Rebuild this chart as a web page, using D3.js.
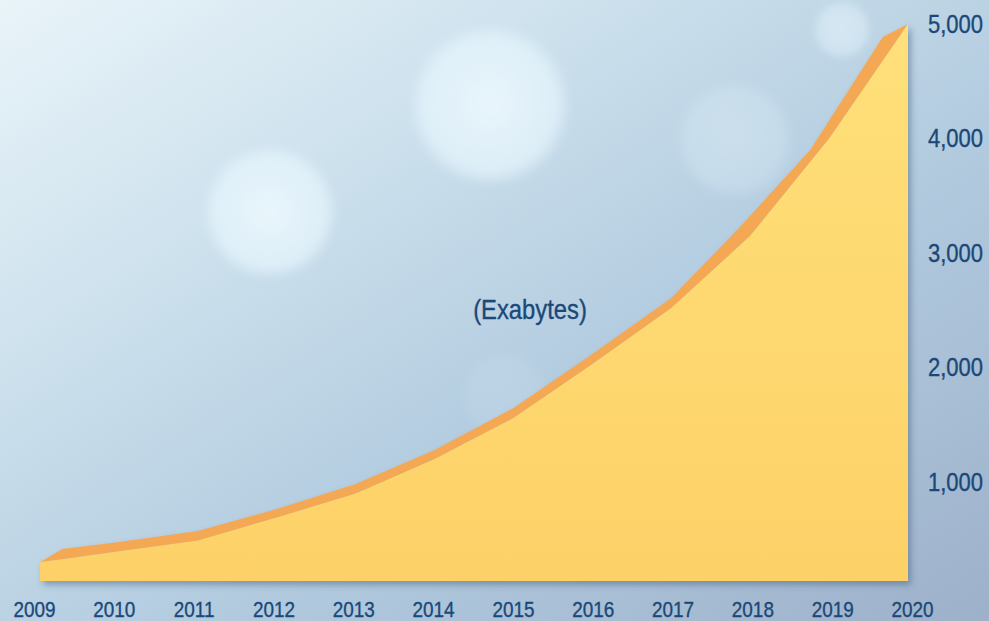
<!DOCTYPE html>
<head>
  <meta charset="utf-8">
  <script src="https://d3js.org/d3.v7.min.js"></script>
  <style>
    body { margin:0; position:fixed; top:0; right:0; bottom:0; left:0; overflow:hidden; }
    .axis text, .unit { font-family: "Liberation Sans", Arial, sans-serif; fill:#1b4878; stroke:#1b4878; stroke-width:0.35px; }
    .axis path, .axis line { display:none; }
  </style>
</head>
<body>
  <script>
    // values
    var years = [2009, 2010, 2011, 2012, 2013, 2014, 2015, 2016, 2017, 2018, 2019, 2020];
    var exabytes = [300, 395, 490, 690, 900, 1200, 1560, 2030, 2520, 3150, 4000, 5000];
    // back edge of the ribbon (the orange top face)
    var backYears = [2009.28, 2010, 2011, 2012, 2013, 2014, 2015, 2016, 2017, 2017.87, 2018.76, 2019.68];
    var backValues = [415, 476, 572, 764, 983, 1280, 1646, 2118, 2607, 3227, 3900, 4886];
    var floorValue = 135;
    var yTicks = [1000, 2000, 3000, 4000, 5000];
    var unitLabel = "(Exabytes)";

    var width = 989, height = 621;

    var svg = d3.select("body").append("svg")
      .attr("width", width)
      .attr("height", height);

    var defs = svg.append("defs");

    var bg = defs.append("linearGradient").attr("id", "bg")
      .attr("x1", 0).attr("y1", 0).attr("x2", 1).attr("y2", 1);
    bg.append("stop").attr("offset", "0%").attr("stop-color", "#e9f4f9");
    bg.append("stop").attr("offset", "30%").attr("stop-color", "#cde1ed");
    bg.append("stop").attr("offset", "60%").attr("stop-color", "#b2cbdf");
    bg.append("stop").attr("offset", "100%").attr("stop-color", "#9db1ca");

    var bokeh = defs.append("radialGradient").attr("id", "bokeh");
    bokeh.append("stop").attr("offset", "0%").attr("stop-color", "#f0fbff").attr("stop-opacity", 0.8);
    bokeh.append("stop").attr("offset", "80%").attr("stop-color", "#e8f7ff").attr("stop-opacity", 0.65);
    bokeh.append("stop").attr("offset", "100%").attr("stop-color", "#e8f7ff").attr("stop-opacity", 0);

    var front = defs.append("linearGradient").attr("id", "front")
      .attr("x1", 0).attr("y1", 0).attr("x2", 0).attr("y2", 1);
    front.append("stop").attr("offset", "0%").attr("stop-color", "#ffe07a");
    front.append("stop").attr("offset", "100%").attr("stop-color", "#fdd168");

    defs.append("filter").attr("id", "soft")
      .append("feGaussianBlur").attr("stdDeviation", 3);

    var shadow = defs.append("filter").attr("id", "shadow")
      .attr("x", "-5%").attr("y", "-5%").attr("width", "115%").attr("height", "115%");
    shadow.append("feDropShadow").attr("dx", 3).attr("dy", 4).attr("stdDeviation", 3)
      .attr("flood-color", "#3d5878").attr("flood-opacity", 0.45);

    svg.append("rect").attr("width", width).attr("height", height).attr("fill", "url(#bg)");

    // soft light spots in the background
    var spots = [[490, 105, 82, 1], [270, 212, 68, 1], [842, 30, 30, 0.6], [735, 140, 60, 0.35], [505, 396, 45, 0.15]];
    svg.selectAll(".spot").data(spots).enter().append("circle")
      .attr("class", "spot")
      .attr("cx", function(d) { return d[0]; })
      .attr("cy", function(d) { return d[1]; })
      .attr("r", function(d) { return d[2]; })
      .attr("fill", "url(#bokeh)")
      .attr("opacity", function(d) { return d[3]; })
      .attr("filter", "url(#soft)");

    var x = d3.scaleLinear().domain([2009, 2020]).range([40, 908]);
    var xLab = d3.scaleLinear().domain([2009, 2020]).range([34, 912]);
    var y = d3.scaleLinear().domain([0, 5000]).range([596.5, 24]);

    var frontPts = years.map(function(yr, i) { return [x(yr), y(exabytes[i])]; });
    var backPts = backYears.map(function(yr, i) { return [x(yr), y(backValues[i])]; });

    var chart = svg.append("g").attr("filter", "url(#shadow)");

    // top face: front edge out, back edge home
    chart.append("path")
      .attr("d", d3.line()(frontPts.concat(backPts.slice().reverse())) + "Z")
      .attr("fill", "#f5a853");

    var area = d3.area()
      .x(function(d) { return x(d); })
      .y0(y(floorValue))
      .y1(function(d, i) { return y(exabytes[i]); });

    chart.append("path")
      .datum(years)
      .attr("d", area)
      .attr("fill", "url(#front)");

    // condensed look: squeeze the glyphs horizontally around their anchor
    var xAxisG = svg.append("g")
      .attr("class", "axis")
      .attr("transform", "translate(0,601)")
      .call(d3.axisBottom(xLab).tickValues(years).tickFormat(d3.format("d")).tickSize(0).tickPadding(0));
    xAxisG.selectAll("text").style("font-size", "22px").attr("transform", "scale(0.86,1)");

    var yAxisG = svg.append("g")
      .attr("class", "axis")
      .attr("transform", "translate(928,0)")
      .call(d3.axisRight(y).tickValues(yTicks).tickFormat(d3.format(",")).tickSize(0).tickPadding(0));
    yAxisG.selectAll("text").style("font-size", "25px").attr("transform", "scale(0.88,1)");

    svg.append("g")
      .attr("transform", "translate(530,319) scale(0.85,1)")
      .append("text")
      .attr("class", "unit")
      .attr("text-anchor", "middle")
      .style("font-size", "28px")
      .text(unitLabel);
  </script>
</body>
